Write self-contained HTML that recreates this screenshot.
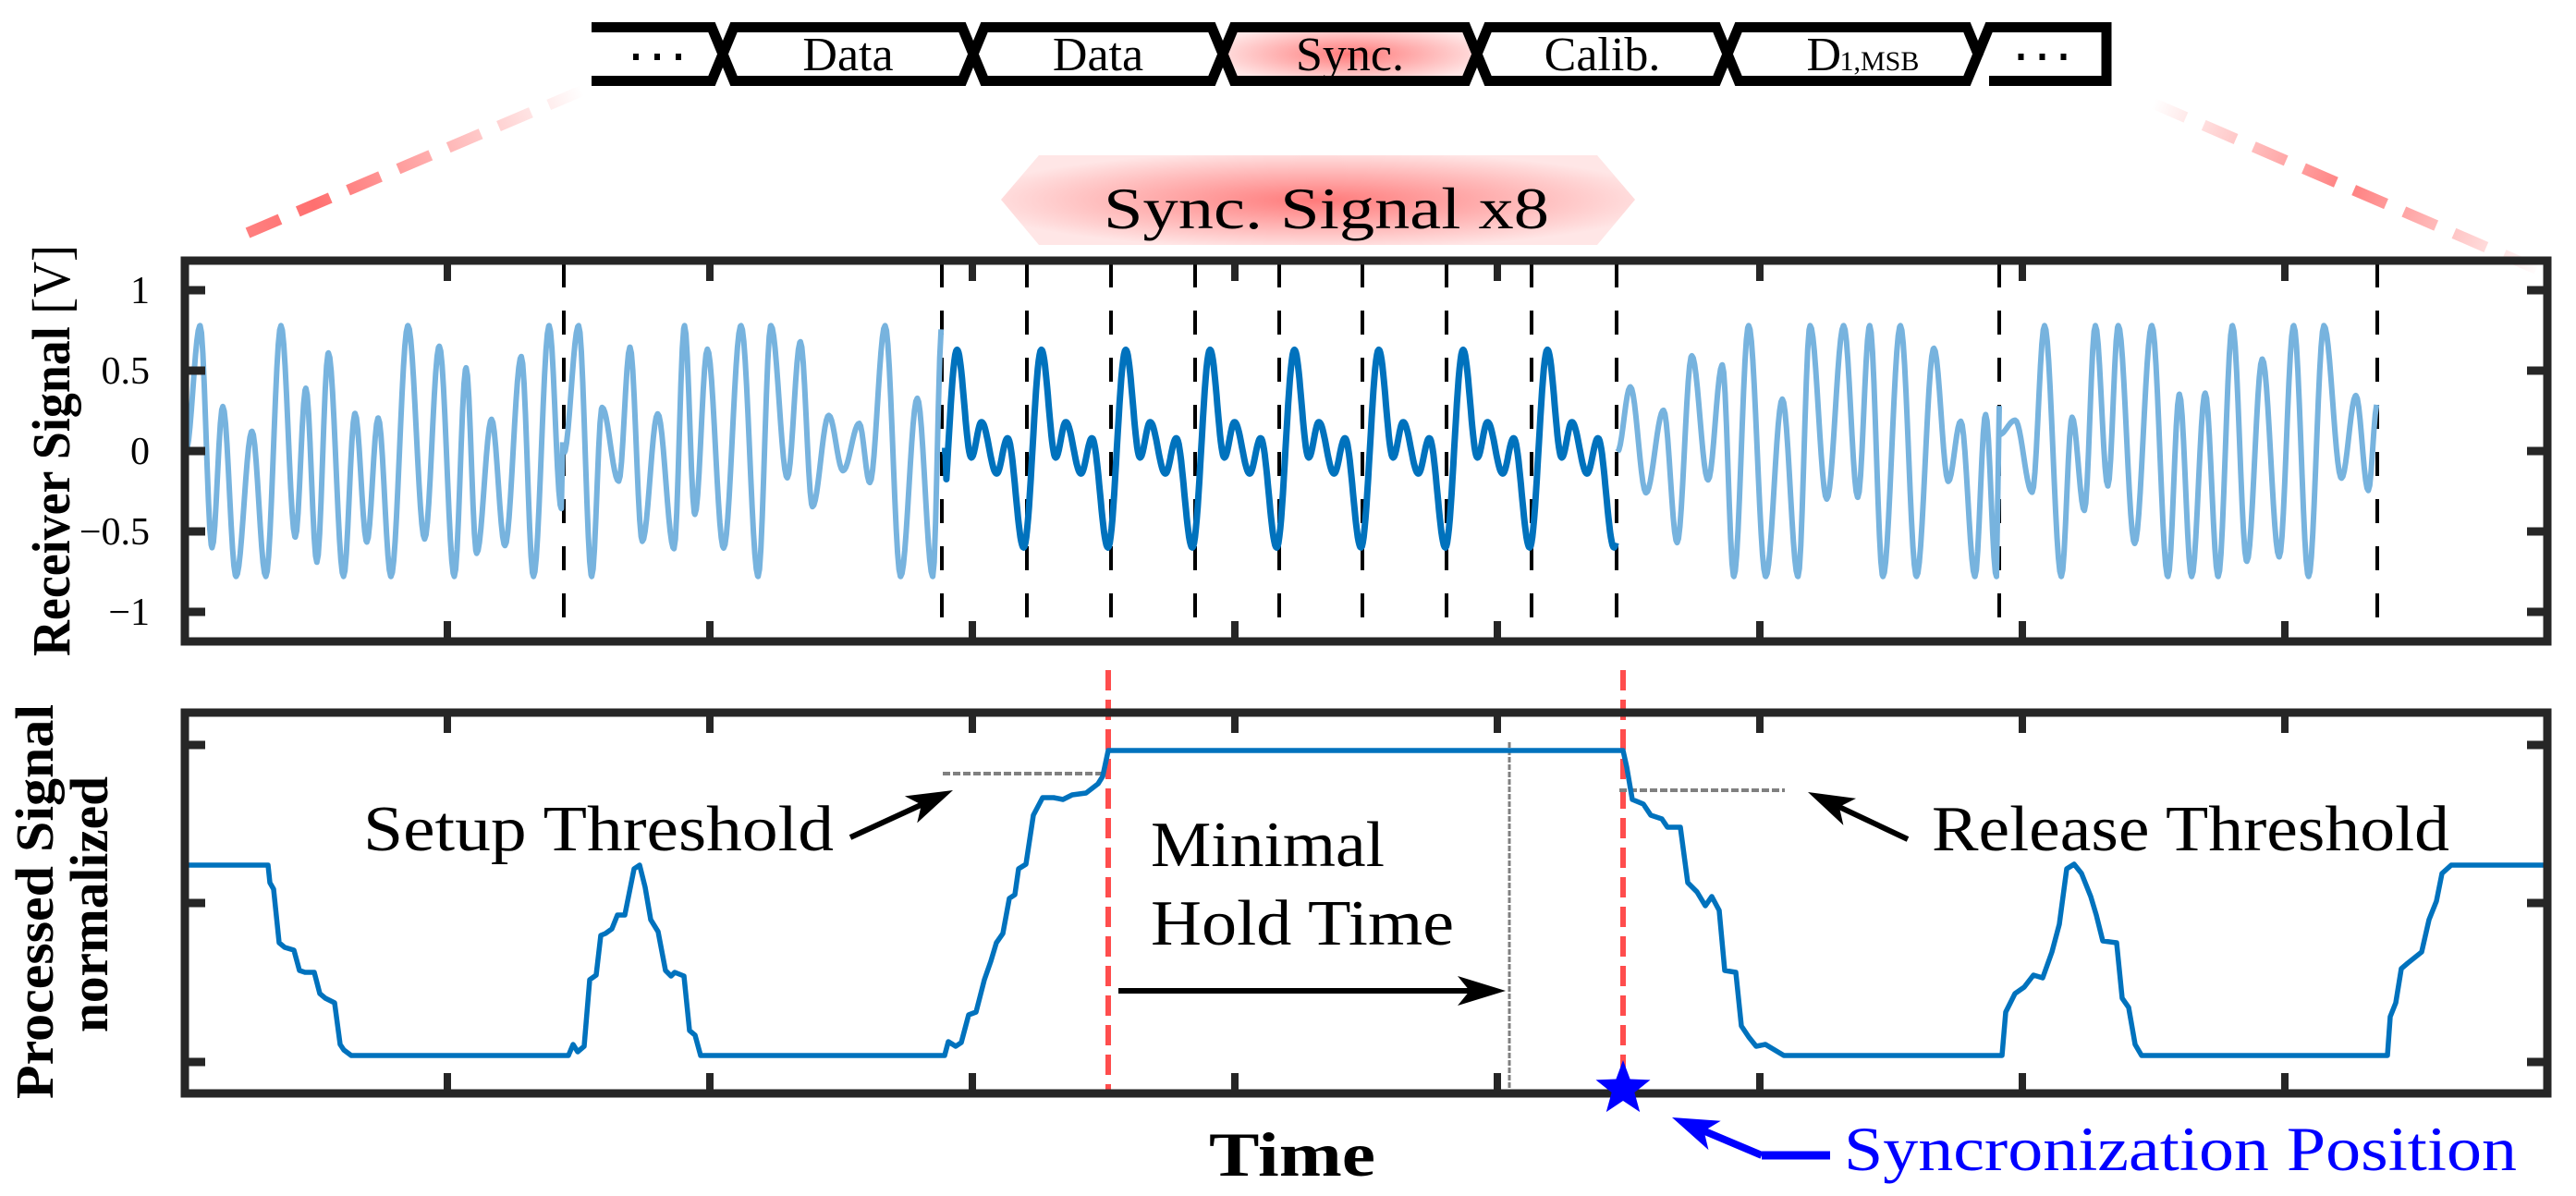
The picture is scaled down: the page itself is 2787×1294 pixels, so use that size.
<!DOCTYPE html>
<html><head><meta charset="utf-8"><style>
html,body{margin:0;padding:0;background:#fff;}
svg{display:block;}
text{font-family:"Liberation Serif",serif;}
</style></head><body>
<svg id="s" width="2787" height="1294" viewBox="0 0 2787 1294" xmlns="http://www.w3.org/2000/svg">
<defs>
<radialGradient id="pk" cx="50%" cy="50%" r="55%">
<stop offset="0" stop-color="#ff7a7a"/><stop offset="1" stop-color="#ffe6e6"/>
</radialGradient>
<linearGradient id="gl" gradientUnits="userSpaceOnUse" x1="268" y1="252" x2="630" y2="98">
<stop offset="0" stop-color="#ff7f7f"/><stop offset="0.2" stop-color="#ff7070"/><stop offset="1" stop-color="#ffffff"/>
</linearGradient>
<linearGradient id="gr" gradientUnits="userSpaceOnUse" x1="2330" y1="112" x2="2749" y2="293">
<stop offset="0" stop-color="#ffffff"/><stop offset="0.5" stop-color="#ff7f7f"/><stop offset="1" stop-color="#ffffff"/>
</linearGradient>
</defs>
<g id="g"></g>
</svg>
<script>
var NS="http://www.w3.org/2000/svg",G=document.getElementById("g");
function el(t,a,txt){var e=document.createElementNS(NS,t);for(var k in a)e.setAttribute(k,a[k]);if(txt!==undefined)e.textContent=txt;G.appendChild(e);return e;}
el("line",{x1:268,y1:252,x2:630,y2:98,stroke:"url(#gl)","stroke-width":12,"stroke-dasharray":"38 21"});
el("line",{x1:2330,y1:112,x2:2749,y2:293,stroke:"url(#gr)","stroke-width":12,"stroke-dasharray":"38 21"});
var segs=[[640,782],[782,1053],[1053,1323],[1323,1598],[1598,1869],[1869,2140],[2140,2279]];
var labs=["···","Data","Data","Sync.","Calib.","D","···"];
segs.forEach(function(s,i){
 var a=s[0],b=s[1],d=12,yt=29.5,yb=87.5,ym=58.5;
 var pts=[];
 if(i==0){pts=[[a,yt],[b-d,yt],[b,ym],[b-d,yb],[a,yb]];}
 else if(i==6){pts=[[a,ym],[a+d,yt],[b,yt],[b,yb],[a+d,yb]];}
 else pts=[[a,ym],[a+d,yt],[b-d,yt],[b,ym],[b-d,yb],[a+d,yb]];
 var p=pts.map(function(q){return q.join(",")}).join(" ");
 if(i==3) el("polygon",{points:p,fill:"url(#pk)",stroke:"none"});
 if(i==0||i==6) el("polyline",{points:p,fill:"none",stroke:"#000","stroke-width":11});
 else el("polygon",{points:p,fill:"none",stroke:"#000","stroke-width":11});
 var m=(a+b)/2;
 if(i==5){el("text",{x:m-50,y:76,"font-size":52},"D");
   el("text",{x:m-14,y:76,"font-size":30},"1,MSB");}
 else if(i==0||i==6){[-23,0,23].forEach(function(o){el("rect",{x:m+o-3,y:58,width:6,height:7,fill:"#000"});});}
 else el("text",{x:m,y:76,"font-size":52,"text-anchor":"middle"},labs[i]);
});
el("polygon",{points:"1083,216 1124,168 1728,168 1769,216 1728,265 1124,265",fill:"url(#pk)"});
el("text",{x:1194,y:247,"font-size":64,textLength:482,lengthAdjust:"spacingAndGlyphs"},"Sync. Signal x8");

var X0=200,X1=2756,Y0=282,Y1=694,Z=488,U=174;
function yv(v){return Z-v*U;}
[610,1019,1111,1202,1293,1384,1474,1565,1657,1749,2163,2572].forEach(function(x){
 el("line",{x1:x,y1:Y0,x2:x,y2:Y1,stroke:"#000","stroke-width":4,"stroke-dasharray":"26 25","stroke-dashoffset":"-3"});});
function rnd(s){return function(){s=(s*9301+49297)%233280;return s/233280;};}
function seg(xa,xb,seed){
 var r=rnd(seed),ext=[],x=xa,sgn=1;
 ext.push([xa,0.3*(r()-0.5)]);
 while(x<xb){x+=11+r()*8;
  var k=r(),amp = k<0.4?0.78:(k<0.65?0.5+r()*0.2:0.1+r()*0.3);
  ext.push([Math.min(x,xb),sgn*amp]);sgn=-sgn;}
 var d="";
 for(var j=0;j<ext.length-1;j++){var a=ext[j],b=ext[j+1];
  for(var xx=a[0];xx<=b[0];xx+=1.5){var t=(xx-a[0])/(b[0]-a[0]);var v=a[1]+(b[1]-a[1])*(1-Math.cos(Math.PI*t))/2;
   d+=(d?"L":"M")+xx.toFixed(1)+","+yv(v).toFixed(1);}}
 return d;}
[[201,610,7],[610,1019,31],[1750,2163,57],[2163,2572,91]].forEach(function(q){
 el("path",{d:seg(q[0],q[1],q[2]),fill:"none",stroke:"#77B3DE","stroke-width":6,"stroke-linejoin":"round"});});
(function(){
 var P=91.25,pts=[[-0.03,-0.6],[0.18,0.63],[0.35,-0.04],[0.47,0.18],[0.65,-0.14],[0.78,0.08],[0.97,-0.6],[1.18,0.63]];
 var d="";
 for(var k=0;k<8;k++){
  var base=1019+k*P;
  for(var j=0;j<pts.length-1;j++){var a=pts[j],b=pts[j+1];
   for(var t=0;t<=1;t+=0.05){var tt=a[0]+(b[0]-a[0])*t;if(tt<0&&k==0)continue;if(tt>=1&&k<7)continue;if(tt>=0.999&&k==7)continue;
    var v=a[1]+(b[1]-a[1])*(1-Math.cos(Math.PI*t))/2;
    if(k==0&&tt<0.05)v=Math.max(v,0.0);
    d+=(d?"L":"M")+(base+tt*P).toFixed(1)+","+yv(v).toFixed(1);}}}
 el("path",{d:d,fill:"none",stroke:"#0072BD","stroke-width":7,"stroke-linejoin":"round"});
})();
el("rect",{x:X0,y:Y0,width:X1-X0,height:Y1-Y0,fill:"none",stroke:"#262626","stroke-width":9});
for(var k=1;k<9;k++){var x=200+284*k;
 el("line",{x1:x,y1:Y0,x2:x,y2:Y0+22,stroke:"#262626","stroke-width":8});
 el("line",{x1:x,y1:Y1,x2:x,y2:Y1-22,stroke:"#262626","stroke-width":8});}
[["1",1],["0.5",0.5],["0",0],["\u22120.5",-0.5],["\u22121",-1]].forEach(function(q){
 var y=yv(q[1]);
 el("line",{x1:X0,y1:y,x2:X0+22,y2:y,stroke:"#262626","stroke-width":9});
 el("line",{x1:X1,y1:y,x2:X1-22,y2:y,stroke:"#262626","stroke-width":9});
 el("text",{x:162,y:y+14,"font-size":42,"text-anchor":"end"},q[0]);});
(function(){var t=el("text",{transform:"translate(75,710) rotate(-90)","font-size":58,textLength:445,lengthAdjust:"spacingAndGlyphs"});
 var a=document.createElementNS(NS,"tspan");a.setAttribute("font-weight","bold");a.textContent="Receiver Signal ";t.appendChild(a);
 var b=document.createElementNS(NS,"tspan");b.textContent="[V]";t.appendChild(b);})();

var B0=771,B1=1183;
el("line",{x1:1199,y1:725,x2:1199,y2:B1,stroke:"#FF4D4D","stroke-width":6,"stroke-dasharray":"22 10"});
el("line",{x1:1756,y1:725,x2:1756,y2:B1,stroke:"#FF4D4D","stroke-width":6,"stroke-dasharray":"22 10"});
el("line",{x1:1633,y1:803,x2:1633,y2:B1,stroke:"#808080","stroke-width":3,"stroke-dasharray":"6 2"});
el("line",{x1:1020,y1:837,x2:1196,y2:837,stroke:"#808080","stroke-width":4,"stroke-dasharray":"8 3"});
el("line",{x1:1752,y1:855,x2:1931,y2:855,stroke:"#808080","stroke-width":4,"stroke-dasharray":"8 3"});
var bp=[[200,936],[290,936],[292,955],[296,962],[302,1020],[308,1025],[318,1028],[324,1050],[330,1052],[340,1052],[346,1075],[352,1080],[362,1085],[368,1130],[372,1136],[380,1142],[615,1142],[620,1130],[625,1138],[632,1132],[638,1060],[645,1055],[650,1012],[655,1010],[662,1005],[668,990],[676,990],[686,940],[692,936],[698,960],[704,995],[712,1008],[720,1050],[726,1056],[730,1052],[740,1056],[746,1115],[752,1120],[758,1142],[1022,1142],[1026,1127],[1034,1132],[1040,1128],[1048,1098],[1056,1095],[1065,1060],[1072,1040],[1078,1020],[1085,1010],[1092,972],[1098,968],[1102,940],[1110,935],[1118,882],[1128,863],[1140,863],[1150,865],[1160,860],[1175,858],[1188,848],[1193,840],[1199,812],[1756,812],[1760,830],[1766,865],[1778,870],[1786,882],[1798,886],[1804,895],[1818,895],[1826,955],[1836,965],[1845,980],[1852,970],[1860,985],[1866,1050],[1878,1052],[1884,1110],[1892,1122],[1900,1132],[1910,1130],[1930,1142],[2166,1142],[2170,1095],[2180,1075],[2190,1068],[2200,1055],[2210,1058],[2220,1030],[2228,1000],[2236,940],[2244,935],[2252,945],[2262,970],[2268,990],[2275,1018],[2290,1020],[2296,1080],[2303,1090],[2310,1130],[2317,1142],[2583,1142],[2586,1100],[2592,1085],[2598,1048],[2605,1042],[2620,1030],[2628,995],[2636,975],[2642,945],[2652,936],[2756,936]];
el("polyline",{points:bp.map(function(q){return q.join(",")}).join(" "),fill:"none",stroke:"#0072BD","stroke-width":5.5,"stroke-linejoin":"round"});
el("rect",{x:X0,y:B0,width:X1-X0,height:B1-B0,fill:"none",stroke:"#262626","stroke-width":9});
for(var k=1;k<9;k++){var x=200+284*k;
 el("line",{x1:x,y1:B0,x2:x,y2:B0+22,stroke:"#262626","stroke-width":8});
 el("line",{x1:x,y1:B1,x2:x,y2:B1-22,stroke:"#262626","stroke-width":8});}
[806,977,1149].forEach(function(y){
 el("line",{x1:X0,y1:y,x2:X0+22,y2:y,stroke:"#262626","stroke-width":9});
 el("line",{x1:X1,y1:y,x2:X1-22,y2:y,stroke:"#262626","stroke-width":9});});
el("text",{transform:"translate(57,1189) rotate(-90)","font-size":58,"font-weight":"bold",textLength:427,lengthAdjust:"spacingAndGlyphs"},"Processed Signal");
el("text",{transform:"translate(116,1117) rotate(-90)","font-size":58,"font-weight":"bold",textLength:277,lengthAdjust:"spacingAndGlyphs"},"normalized");
function arrow(x1,y1,x2,y2,col,w,L,H){
 var dx=x2-x1,dy=y2-y1,n=Math.hypot(dx,dy),ux=dx/n,uy=dy/n,px=-uy,py=ux;
 var bx=x2-ux*L,by=y2-uy*L;
 el("line",{x1:x1,y1:y1,x2:x2-ux*L*0.7,y2:y2-uy*L*0.7,stroke:col,"stroke-width":w});
 var nx=x2-ux*L*0.75,ny=y2-uy*L*0.75;
 el("polygon",{points:[x2,y2,bx+px*H,by+py*H,nx,ny,bx-px*H,by-py*H].join(","),fill:col});}
arrow(1210,1072,1629,1072,"#000",6,52,16);
arrow(920,906,1031,855,"#000",6,50,16);
arrow(2064,908,1956,857,"#000",6,50,16);
el("line",{x1:1980,y1:1250,x2:1906,y2:1250,stroke:"#0000FF","stroke-width":9});
arrow(1906,1250,1809,1209,"#0000FF",8,50,17);
(function(){var c=[1756,1178],R=31,r=13,p=[];for(var i=0;i<10;i++){var a=-Math.PI/2+i*Math.PI/5,rr=i%2?r:R;p.push((c[0]+rr*Math.cos(a)).toFixed(1)+","+(c[1]+rr*Math.sin(a)).toFixed(1));}
 el("polygon",{points:p.join(" "),fill:"#0000FF"});})();
el("text",{x:393,y:920,"font-size":70,textLength:509,lengthAdjust:"spacingAndGlyphs"},"Setup Threshold");
el("text",{x:2090,y:920,"font-size":70,textLength:560,lengthAdjust:"spacingAndGlyphs"},"Release Threshold");
el("text",{x:1245,y:937,"font-size":70,textLength:253,lengthAdjust:"spacingAndGlyphs"},"Minimal");
el("text",{x:1245,y:1022,"font-size":70,textLength:328,lengthAdjust:"spacingAndGlyphs"},"Hold Time");
el("text",{x:1308,y:1272,"font-size":68,"font-weight":"bold",textLength:180,lengthAdjust:"spacingAndGlyphs"},"Time");
el("text",{x:1995,y:1266,"font-size":68,fill:"#0000FF",textLength:728,lengthAdjust:"spacingAndGlyphs"},"Syncronization Position");
</script>
</body></html>
